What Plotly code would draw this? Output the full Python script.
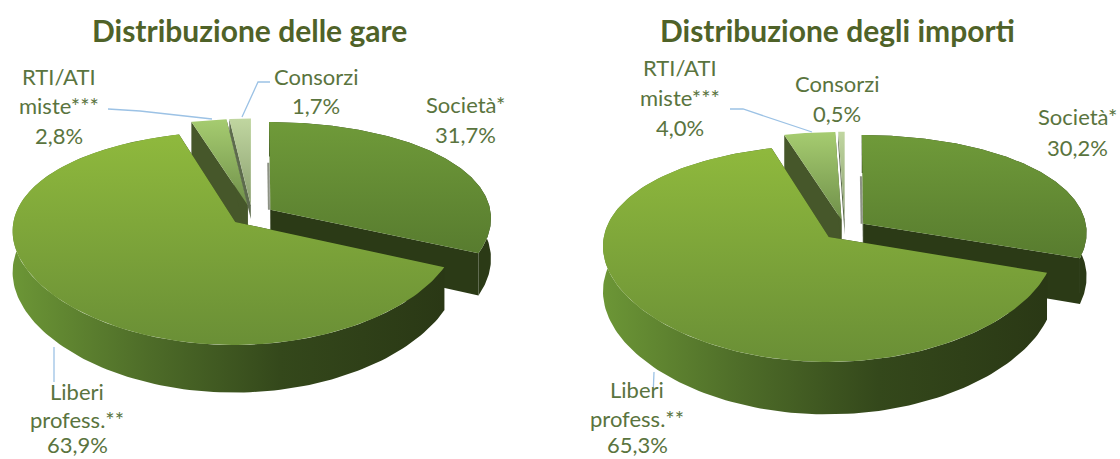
import numpy as np
import plotly.graph_objects as go

# ---- data ----
categories = ["Società*", "Liberi profess.**", "RTI/ATI miste***", "Consorzi"]
gare_values = [31.7, 63.9, 2.8, 1.7]
importi_values = [30.2, 65.3, 4.0, 0.5]
gare_title = "Distribuzione delle gare"
importi_title = "Distribuzione degli importi"

# ---- geometry / style ----
GEOM_L = dict(cx=252, cy=215.2, rx=220.7, ry=102.3, d=40)
GEOM_R = dict(cx=845, cy=229.8, rx=223.7, ry=103.8, d=44)
K = 0.15       # perspective strength (vertical)
KX = 0.08      # perspective strength (horizontal)
PULL = 0.10    # slice explosion
TXT = "#5a743e"
TITLE = "#4f6228"
LEAD = "#9cc2e5"
FONT = "Lato"

TOP = {
    0: ("#6f9a39", "#587c2f"),
    1: ("#8fb93d", "#6a8f36"),
    2: ("#a6cc70", "#70904a"),
    3: ("#c0d6a0", "#8ba070"),
}
WALL_OUT = {
    0: [[0, "#2b3a16"], [1, "#2b3a16"]],
    1: [[0, "#6c9636"], [0.3, "#4f6e29"], [0.62, "#34481b"], [1, "#2a3815"]],
}
WALL_RAD = {0: "#2b3a16", 1: "#2b3a16", 2: "#46572a", 3: "#5d6b4d"}
RAD_DEPTH = {0: 1, 1: 1, 2: 1, 3: 0.35}


def proj(u, v, z, g):
    s = 1 / (1 + K * v)
    sx = 1 / (1 + KX * v)
    return g["cx"] + g["rx"] * u * sx, g["cy"] - g["ry"] * v * s + z * g["d"] * s


def add_poly(fig, x, y, **style):
    fig.add_trace(go.Scatter(x=np.append(x, x[0]), y=np.append(y, y[0]), mode="lines",
                             fill="toself", line=dict(width=0), hoverinfo="skip",
                             showlegend=False, **style))


def add_pie(fig, values, g):
    total = sum(values)
    edges = np.concatenate([[0], np.cumsum(values)]) / total * 2 * np.pi
    for i in [2, 3, 0, 1]:
        a, b = edges[i], edges[i + 1]
        mid = (a + b) / 2
        ou, ov = PULL * np.sin(mid), PULL * np.cos(mid)
        t = np.linspace(a, b, 160)
        u, v = ou + np.sin(t), ov + np.cos(t)
        tx, ty = proj(u, v, 0, g)
        bx, by = proj(u, v, 1, g)
        rx_, ry_ = proj(u, v, RAD_DEPTH[i], g)
        ax0, ay0 = proj(ou, ov, 0, g)
        ax1, ay1 = proj(ou, ov, RAD_DEPTH[i], g)
        # radial walls
        for k in (0, -1):
            add_poly(fig, np.array([ax0, tx[k], rx_[k], ax1]), np.array([ay0, ty[k], ry_[k], ay1]),
                     fillcolor=WALL_RAD[i])
        # outer wall (the two back slices never show theirs)
        if i in WALL_OUT:
            add_poly(fig, np.concatenate([tx, bx[::-1]]), np.concatenate([ty, by[::-1]]),
                     fillgradient=dict(type="horizontal", colorscale=WALL_OUT[i]))
        # sliver of the cut face beside the first slice
        if i == 0:
            sx, sy = proj(ou + 0 * t[:2], ov + np.array([0.0, 0.5]), 0, g)
            fig.add_trace(go.Scatter(x=sx - 1.5, y=sy, mode="lines",
                                     line=dict(color="#8d9284", width=2),
                                     hoverinfo="skip", showlegend=False))
        # top face
        add_poly(fig, np.concatenate([[ax0], tx]), np.concatenate([[ay0], ty]),
                 fillgradient=dict(type="vertical",
                                   colorscale=[[0, TOP[i][1]], [1, TOP[i][0]]]))


fig = go.Figure()
add_pie(fig, gare_values, GEOM_L)
add_pie(fig, importi_values, GEOM_R)

leaders = [
    ([108, 140, 212], [109, 111, 119]),
    ([270, 258, 242], [82, 82, 117]),
    ([54, 54], [347, 382]),
    ([730, 743, 812], [109, 109, 132]),
    ([654, 653], [372, 397]),
]
for lx, ly in leaders:
    fig.add_trace(go.Scatter(x=lx, y=ly, mode="lines", line=dict(color=LEAD, width=1.3),
                             hoverinfo="skip", showlegend=False))


def pct(v):
    return f"{v:.1f}%".replace(".", ",")


labels = [
    (59, [76, 105, 135], ["RTI/ATI", "miste***", pct(gare_values[2])]),
    (316, [76, 105], ["Consorzi", pct(gare_values[3])]),
    (465, [104, 134], ["Società*", pct(gare_values[0])]),
    (77, [391, 419, 444], ["Liberi", "profess.**", pct(gare_values[1])]),
    (680, [67, 97, 127], ["RTI/ATI", "miste***", pct(importi_values[2])]),
    (837, [83, 113], ["Consorzi", pct(importi_values[3])]),
    (1077, [116, 147], ["Società*", pct(importi_values[0])]),
    (637, [389, 418, 444], ["Liberi", "profess.**", pct(importi_values[1])]),
]
annotations = []
for xc, ys, texts in labels:
    for yy, tx in zip(ys, texts):
        annotations.append(dict(x=xc, y=yy, text=tx, showarrow=False, xanchor="center",
                                yanchor="middle", font=dict(family=FONT, size=22, color=TXT)))
for xc, tx in ((249, gare_title), (837, importi_title)):
    annotations.append(dict(x=xc, y=30, text=f"<b>{tx}</b>", showarrow=False, xanchor="center",
                            yanchor="middle", font=dict(family=FONT, size=30, color=TITLE)))

fig.update_layout(
    width=1120, height=459, margin=dict(l=0, r=0, t=0, b=0),
    paper_bgcolor="white", plot_bgcolor="white", showlegend=False,
    xaxis=dict(range=[0, 1120], visible=False, fixedrange=True),
    yaxis=dict(range=[459, 0], visible=False, fixedrange=True),
    annotations=annotations,
)
fig.write_html("out.html", config={"displayModeBar": False},
               post_script="document.body.style.margin='0';document.documentElement.style.overflow='hidden';")
